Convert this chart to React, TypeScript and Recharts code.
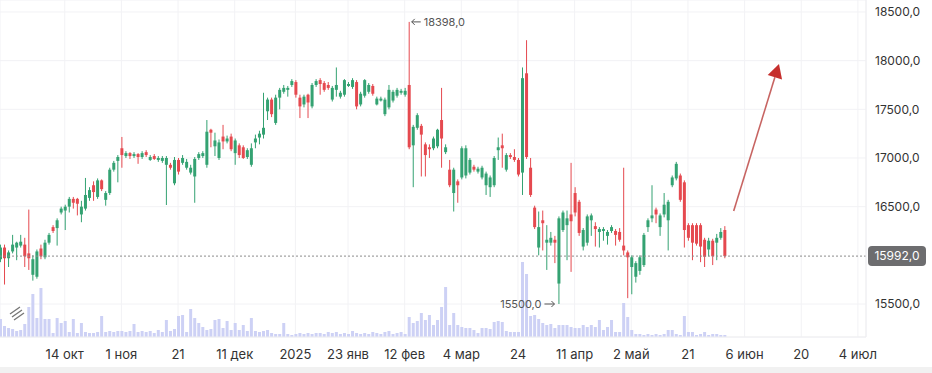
import * as React from "react"
import {
  Bar,
  CartesianGrid,
  ComposedChart,
  ReferenceDot,
  ReferenceLine,
  XAxis,
  YAxis,
} from "recharts"

// дневные свечи, индекс = номер торгового дня
const OPEN = [
  15960, 16080, 15970, 16040, 16080, 16100, 16110, 16020, 15800, 15780, 16070, 15980, 16130, 16290, 16280, 16440, 16460, 16500, 16580, 16580,
  16420, 16480, 16590, 16720, 16600, 16770, 16570, 16640, 16880, 16970, 17100, 17020, 17050, 17020, 17040, 17010, 17060, 16980, 17020, 16980,
  16970, 16930, 16930, 16740, 16980, 16950, 16900, 16850, 16810, 17000, 17020, 16930, 17290, 17120, 17000, 17220, 17170, 17220, 17050, 17130,
  17110, 17010, 16930, 17160, 17210, 17240, 17480, 17600, 17360, 17620, 17680, 17700, 17750, 17780, 17620, 17550, 17650, 17530, 17750, 17800,
  17770, 17750, 17600, 17700, 17630, 17650, 17740, 17730, 17780, 17550, 17640, 17680, 17740, 17550, 17590, 17450, 17520, 17590, 17640, 17670,
  17650, 17750, 17130, 17310, 17330, 17140, 17110, 17100, 17120, 17390, 17060, 16880, 16640, 16760, 16800, 16820, 16850, 16910, 16860, 16800,
  16720, 16700, 16720, 17080, 17130, 16880, 17030, 17010, 16980, 16850, 17870, 16900, 16490, 16080, 16360, 16130, 16130, 16160, 15710, 16260,
  16310, 16420, 16640, 16550, 16090, 16130, 16360, 16300, 16240, 16250, 16200, 16250, 16250, 16240, 16100, 16030, 15880, 15780, 15840, 15900,
  16290, 16380, 16470, 16290, 16420, 16360, 16720, 16790, 16820, 16750, 16310, 16310, 16310, 16310, 16160, 16060, 16150, 16130, 16180, 16260,
]
const HIGH = [
  16110, 16110, 16050, 16210, 16140, 16210, 16180, 16470, 16000, 16060, 16110, 16160, 16230, 16310, 16380, 16500, 16520, 16600, 16600, 16590,
  16560, 16795, 16700, 16760, 16790, 16780, 16660, 16900, 16970, 17030, 17216, 17070, 17060, 17060, 17050, 17070, 17080, 17030, 17040, 17020,
  17020, 17020, 16950, 17010, 17000, 17030, 16990, 16930, 17010, 17060, 17070, 17390, 17300, 17260, 17190, 17340, 17230, 17250, 17200, 17150,
  17130, 17100, 17150, 17240, 17280, 17670, 17620, 17620, 17650, 17720, 17750, 17740, 17810, 17800, 17650, 17650, 17660, 17770, 17810, 17820,
  17790, 17780, 17740, 17930, 17690, 17810, 17780, 17820, 17800, 17680, 17810, 17770, 17760, 17630, 17630, 17620, 17750, 17700, 17720, 17710,
  17720, 18398, 17340, 17460, 17350, 17160, 17140, 17220, 17300, 17720, 17140, 16980, 16900, 16780, 17120, 17130, 17000, 16930, 16910, 16920,
  16860, 16820, 17020, 17210, 17250, 17050, 17050, 17090, 17000, 17930, 18210, 17000, 16510, 16450, 16460, 16310, 16240, 16200, 16400, 16460,
  16460, 16950, 16700, 16570, 16280, 16420, 16430, 16340, 16290, 16290, 16260, 16310, 16270, 16280, 16900, 16050, 16000, 15940, 16000, 16230,
  16380, 16720, 16490, 16430, 16640, 16570, 16820, 16960, 16840, 16770, 16330, 16330, 16330, 16330, 16180, 16180, 16170, 16220, 16280, 16300,
]
const LOW = [
  15930, 15700, 15880, 16020, 15950, 16080, 15880, 15850, 15740, 15760, 15960, 15960, 16110, 16230, 16100, 16420, 16260, 16440, 16480, 16410,
  16340, 16460, 16560, 16560, 16580, 16660, 16510, 16620, 16860, 16750, 16900, 17000, 16990, 17000, 16940, 16990, 17010, 16970, 16980, 16960,
  16950, 16517, 16880, 16720, 16830, 16930, 16880, 16830, 16540, 16980, 17000, 16900, 17110, 17020, 16980, 17090, 17150, 17070, 16930, 17000,
  16990, 16990, 16910, 17100, 17140, 17200, 17390, 17420, 17340, 17500, 17660, 17630, 17730, 17620, 17410, 17520, 17410, 17510, 17730, 17650,
  17680, 17700, 17580, 17630, 17610, 17630, 17730, 17710, 17500, 17530, 17620, 17660, 17640, 17540, 17580, 17430, 17500, 17570, 17620, 17650,
  17630, 17090, 16700, 17290, 16810, 16810, 17000, 17080, 17100, 16900, 17040, 16700, 16450, 16540, 16780, 16790, 16830, 16860, 16840, 16780,
  16620, 16600, 16700, 16980, 16900, 16860, 16990, 16960, 16810, 16620, 16990, 16600, 16270, 16000, 16050, 15850, 16100, 15920, 15500, 16240,
  15950, 15830, 16400, 16200, 16050, 16100, 16200, 16090, 16080, 16150, 16110, 16230, 16100, 16140, 16000, 15560, 15600, 15720, 15800, 15880,
  16240, 16340, 16330, 16200, 16390, 16050, 16700, 16770, 16550, 16080, 16150, 15950, 16100, 15930, 15880, 15990, 15900, 15950, 16160, 15970,
]
const CLOSE = [
  16080, 15970, 16030, 16110, 16130, 16140, 15990, 15970, 15960, 16040, 15990, 16130, 16210, 16250, 16360, 16480, 16500, 16580, 16540, 16530,
  16500, 16620, 16670, 16650, 16770, 16680, 16640, 16880, 16950, 17010, 17030, 17050, 17020, 17040, 17010, 17050, 17030, 17010, 16990, 17000,
  17000, 17000, 16900, 16980, 16860, 17000, 16960, 16900, 16990, 17040, 17050, 17270, 17260, 17180, 17160, 17170, 17200, 17090, 17180, 17030,
  17000, 17080, 17100, 17200, 17250, 17310, 17600, 17450, 17620, 17700, 17720, 17720, 17790, 17650, 17530, 17630, 17570, 17750, 17790, 17760,
  17700, 17720, 17720, 17750, 17670, 17800, 17760, 17800, 17530, 17660, 17800, 17750, 17660, 17610, 17610, 17600, 17700, 17680, 17700, 17690,
  17690, 17110, 17320, 17440, 17240, 17030, 17090, 17200, 17290, 17200, 17110, 16720, 16880, 16720, 17100, 17100, 16980, 16880, 16890, 16900,
  16840, 16800, 17000, 17110, 17100, 17030, 17010, 16980, 16830, 17820, 17010, 16620, 16290, 16290, 16330, 16160, 16180, 16130, 16380, 16440,
  16380, 16350, 16440, 16230, 16260, 16400, 16410, 16270, 16270, 16270, 16240, 16290, 16210, 16160, 16050, 15980, 15980, 15920, 15980, 16210,
  16360, 16410, 16420, 16410, 16520, 16550, 16800, 16940, 16570, 16260, 16180, 16130, 16120, 16090, 15985, 16150, 15990, 16180, 16240, 15992,
]
const VOLUME = [
  18, 11, 9, 8, 6, 7, 13, 30, 43, 19, 49, 18, 18, 4, 19, 14, 16, 5, 18, 4,
  14, 5, 4, 4, 5, 21, 5, 6, 5, 6, 6, 5, 6, 13, 5, 6, 5, 6, 4, 7,
  5, 17, 6, 8, 21, 22, 5, 28, 19, 14, 10, 7, 8, 17, 18, 9, 16, 7, 14, 7,
  12, 6, 19, 6, 5, 6, 7, 4, 3, 3, 14, 3, 2, 3, 4, 3, 4, 3, 4, 4,
  3, 5, 4, 5, 3, 4, 3, 6, 4, 3, 4, 3, 5, 4, 3, 5, 6, 3, 4, 5,
  3, 20, 14, 16, 24, 17, 22, 12, 17, 30, 50, 12, 24, 12, 10, 9, 9, 7, 4, 9,
  9, 8, 15, 16, 15, 6, 5, 5, 5, 75, 63, 21, 22, 18, 14, 12, 13, 9, 12, 12,
  12, 10, 9, 9, 12, 10, 12, 10, 17, 7, 10, 17, 5, 5, 34, 20, 7, 3, 3, 2,
  3, 2, 3, 2, 3, 7, 7, 3, 2, 21, 5, 5, 2, 3, 5, 2, 3, 3, 2, 2,
]

const TICK_INDEX = [16, 30, 44, 58, 73, 86, 100, 114, 128, 142, 156, 170, 184, 198, 212]
const TICK_LABELS = [
  "14 окт", "1 ноя", "21", "11 дек", "2025", "23 янв", "12 фев", "4 мар",
  "24", "11 апр", "2 май", "21", "6 июн", "20", "4 июл",
]
const PRICE_TICKS = [15500, 16500, 17000, 17500, 18000, 18500]
const LAST_PRICE = 15992
const MAX_MARK = { i: 101, price: 18398 }
const MIN_MARK = { i: 138, price: 15500 }
const FORECAST = [
  { x: 181.3, y: 16455 },
  { x: 192.5, y: 17966 },
]

const UP = "#34a272"
const DOWN = "#e5494f"
const FONT = "Inter, Roboto, 'Noto Sans', sans-serif"

const rows = CLOSE.map((c, i) => ({
  i,
  o: OPEN[i],
  h: HIGH[i],
  l: LOW[i],
  c,
  v: VOLUME[i],
}))

const fmt = (v: number) => v.toFixed(1).replace(".", ",")

function Candle(props: any) {
  const { x, y, width, height, payload } = props
  if (!payload) return null
  const top = Math.min(y, y + height)
  const full = Math.abs(height)
  const { o, h, l, c } = payload
  const color = c >= o ? UP : DOWN
  const ppu = h > l ? full / (h - l) : 0
  const bTop = top + (h - Math.max(o, c)) * ppu
  const bBot = top + (h - Math.min(o, c)) * ppu
  const cx = x + width / 2
  return (
    <g>
      <line x1={cx} x2={cx} y1={top} y2={top + full} stroke={color} strokeWidth={1} />
      <rect x={x} y={bTop} width={width} height={Math.max(1, bBot - bTop)} fill={color} />
    </g>
  )
}

function ForecastArrow(props: any) {
  const { x1, y1, x2, y2 } = props
  const dx = x2 - x1
  const dy = y2 - y1
  const len = Math.hypot(dx, dy) || 1
  const ux = dx / len
  const uy = dy / len
  const head = 14
  const half = 7.5
  const bx = x2 - ux * head
  const by = y2 - uy * head
  const px = -uy
  const py = ux
  return (
    <g>
      <line x1={x1} y1={y1} x2={bx} y2={by} stroke="#c76462" strokeWidth={1.6} />
      <polygon
        points={`${x2},${y2} ${bx + px * half},${by + py * half} ${bx - px * half},${by - py * half}`}
        fill="#c62f2d"
      />
    </g>
  )
}

function MaxLabel(props: any) {
  const { cx, cy } = props
  return (
    <g>
      <line x1={cx + 3} x2={cx + 12} y1={cy} y2={cy} stroke="#555" strokeWidth={1} />
      <polyline points={`${cx + 6},${cy - 3} ${cx + 3},${cy} ${cx + 6},${cy + 3}`} fill="none" stroke="#555" />
      <text x={cx + 15} y={cy + 4} fontSize={11} fill="#555" fontFamily={FONT}>
        {fmt(MAX_MARK.price)}
      </text>
    </g>
  )
}

function MinLabel(props: any) {
  const { cx, cy } = props
  return (
    <g>
      <line x1={cx - 14} x2={cx - 4} y1={cy} y2={cy} stroke="#555" strokeWidth={1} />
      <polyline points={`${cx - 7},${cy - 3} ${cx - 4},${cy} ${cx - 7},${cy + 3}`} fill="none" stroke="#555" />
      <text x={cx - 17} y={cy + 4} fontSize={11} fill="#555" textAnchor="end" fontFamily={FONT}>
        {fmt(MIN_MARK.price)}
      </text>
    </g>
  )
}

function PriceTag(props: any) {
  const vb = props.viewBox || {}
  const right = (vb.x ?? 0) + (vb.width ?? 0)
  const y = vb.y ?? 0
  return (
    <g>
      <rect x={right + 2} y={y - 10} width={58} height={20} rx={4} fill="#6d6d6f" />
      <text x={right + 31} y={y + 4} fontSize={12} fill="#fff" textAnchor="middle" fontFamily={FONT}>
        {fmt(LAST_PRICE)}
      </text>
    </g>
  )
}

export default function App() {
  return (
    <div
      style={{
        position: "absolute",
        left: 0,
        top: 0,
        width: 932,
        height: 373,
        background: "#fff",
        fontFamily: FONT,
        overflow: "hidden",
      }}
    >
      <ComposedChart width={932} height={373} data={rows} margin={{ top: 0, right: 0, bottom: 0, left: 0 }}>
        <CartesianGrid xAxisId="main" yAxisId="price" stroke="#f2f2f5" />
        <XAxis
          xAxisId="main"
          type="number"
          dataKey="i"
          domain={[0, 214]}
          ticks={TICK_INDEX}
          tickFormatter={(v: number) => TICK_LABELS[TICK_INDEX.indexOf(v)] ?? ""}
          height={36}
          tickSize={0}
          tickMargin={13}
          tickLine={false}
          axisLine={{ stroke: "#eeeef1" }}
          tick={{ fill: "#333", fontSize: 13 }}
          interval={0}
        />
        <XAxis xAxisId="vol" type="number" dataKey="i" domain={[0, 214]} hide />
        <YAxis
          yAxisId="price"
          orientation="right"
          domain={[15161, 18623]}
          ticks={PRICE_TICKS}
          tickFormatter={fmt}
          width={66}
          tickSize={0}
          tickMargin={9}
          tickLine={false}
          axisLine={{ stroke: "#eeeef1" }}
          tick={{ fill: "#333", fontSize: 12, textAnchor: "start" }}
          interval={0}
        />
        <YAxis yAxisId="vol" domain={[0, 337]} hide />

        <Bar xAxisId="vol" yAxisId="vol" dataKey="v" fill="#cdd1f5" barSize={3} isAnimationActive={false} />
        <ReferenceLine
          xAxisId="main"
          yAxisId="price"
          y={LAST_PRICE}
          stroke="#8c8c8c"
          strokeDasharray="2 2"
          label={PriceTag}
        />
        <Bar
          xAxisId="main"
          yAxisId="price"
          dataKey={(d: any) => [d.l, d.h]}
          barSize={3}
          shape={Candle}
          isAnimationActive={false}
        />
        <ReferenceDot xAxisId="main" yAxisId="price" x={MAX_MARK.i} y={MAX_MARK.price} shape={MaxLabel} />
        <ReferenceDot xAxisId="main" yAxisId="price" x={MIN_MARK.i} y={MIN_MARK.price} shape={MinLabel} />
        <ReferenceLine
          xAxisId="main"
          yAxisId="price"
          segment={FORECAST}
          shape={ForecastArrow}
        />
      </ComposedChart>
      <svg style={{ position: "absolute", left: 6, top: 302 }} width={22} height={22}>
        <circle cx={11} cy={11} r={10} fill="#fff" />
        <path d="M4 12 L14 5 M6 15 L16 8 M8 18 L18 11" stroke="#777" strokeWidth={1.4} fill="none" />
      </svg>
      <div style={{ position: "absolute", left: 0, top: 367, width: 932, height: 6, background: "#f1f1f1" }} />
    </div>
  )
}
